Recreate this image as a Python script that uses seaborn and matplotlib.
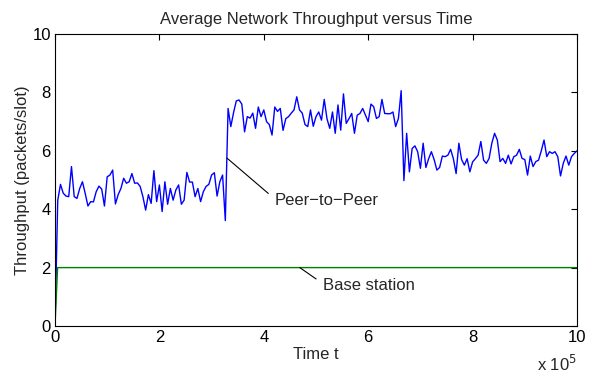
import numpy as np
import pandas as pd
import matplotlib
matplotlib.use("Agg")
import matplotlib.pyplot as plt
import seaborn as sns

# ---- data ----
p2p_phase1 = [0.0, 4.3, 4.85, 4.55, 4.45, 4.43, 5.46, 4.43, 4.37, 4.71,
              4.94, 4.54, 4.11, 4.26, 4.25, 4.6, 4.79, 4.69, 4.11, 5.11,
              5.17, 5.34, 4.18, 4.5, 4.71, 5.06, 4.89, 4.94, 5.22, 4.89,
              4.9, 4.78, 4.43, 3.97, 4.5, 4.2, 5.32, 4.26, 4.83, 3.92,
              4.94, 4.17, 4.71, 4.31, 4.66, 4.83, 4.17, 4.31, 5.26, 4.93,
              4.93, 4.43, 4.71, 4.26, 4.6, 4.78, 4.85, 5.17, 5.25, 4.45,
              4.94, 5.17, 3.61]
p2p_phase2 = [7.45, 6.83, 7.31, 7.71, 7.74, 7.6, 6.65, 7.17, 7.12, 7.29,
              6.77, 7.5, 7.17, 7.4, 7.0, 6.9, 6.54, 7.5, 7.35, 7.45,
              6.7, 7.1, 7.17, 7.29, 7.4, 7.85, 7.4, 7.29, 6.9,
              6.83, 7.4, 6.84, 7.17, 7.33, 7.05, 7.76, 7.1, 6.77, 7.33,
              6.6, 7.57, 6.71, 7.95, 6.94, 7.1, 7.28, 6.6, 7.22, 7.28,
              7.45, 7.22, 7.0, 7.6, 7.51, 7.11, 7.17, 7.76, 7.28, 7.27,
              7.27, 7.33, 6.83, 7.11, 8.06]
p2p_phase3 = [4.98, 6.6, 5.28, 6.08, 6.17, 5.97, 5.4, 6.26, 5.43, 5.73,
              5.97, 5.7, 5.34, 5.43, 5.82, 5.8, 5.85, 6.05, 5.73, 5.22,
              6.26, 5.7, 5.51, 5.73, 5.28, 5.62, 5.73, 5.85, 6.32,
              5.68, 5.57, 5.74, 6.26, 6.6, 6.37, 5.63, 5.74, 5.57, 5.85,
              5.55, 5.8, 5.85, 6.05, 5.74, 5.7, 5.17, 5.82, 5.46, 5.63,
              5.68, 6.0, 6.37, 5.8, 5.97, 5.91, 5.97, 5.8, 5.14, 5.57,
              5.82, 5.51, 5.8, 5.91, 6.0]
peer_to_peer = p2p_phase1 + p2p_phase2 + p2p_phase3
t_max = 1.0e6
time = np.linspace(0, t_max, len(peer_to_peer))

base_time = [0.0, 5000.0, 1.0e6]
base_station = [0.0, 2.0, 2.0]

xticks = [0, 2e5, 4e5, 6e5, 8e5, 1e6]
xticklabels = ["0", "2", "4", "6", "8", "10"]
yticks = [0, 2, 4, 6, 8, 10]

# ---- plotting ----
sns.set_style("white")
plt.rcParams["font.family"] = ["Liberation Sans", "DejaVu Sans"]

fig = plt.figure(figsize=(5.97, 3.73), dpi=100)
ax = fig.add_axes([0.0921, 0.126, 0.8744, 0.7828])

df_p = pd.DataFrame({"t": time, "v": peer_to_peer})
df_b = pd.DataFrame({"t": base_time, "v": base_station})
sns.lineplot(data=df_p, x="t", y="v", color="#0000ff", lw=1.0, ax=ax,
             estimator=None, sort=False)
sns.lineplot(data=df_b, x="t", y="v", color="#008000", lw=1.0, ax=ax,
             estimator=None, sort=False)

ax.set_xlim(0, t_max)
ax.set_ylim(0, 10)
ax.set_xticks(xticks)
ax.set_xticklabels(xticklabels)
ax.set_yticks(yticks)
ax.tick_params(direction="in", top=True, right=True, length=4, width=0.8,
               labelsize=12, colors="black", pad=3)
for sp in ax.spines.values():
    sp.set_color("black")
    sp.set_linewidth(0.8)

ax.set_xlabel("Time t", fontsize=12, labelpad=1)
ax.set_ylabel("Throughput (packets/slot)", fontsize=12, labelpad=2)
ax.set_title("Average Network Throughput versus Time", fontsize=12, pad=7)
ax.text(1.0, -0.095, "x 10$^5$", transform=ax.transAxes, ha="right",
        va="top", fontsize=12)

ax.annotate("Peer\u2212to\u2212Peer", xy=(3.295e5, 5.75), xytext=(4.21e5, 4.3),
            fontsize=12, va="center", ha="left",
            arrowprops=dict(arrowstyle="-", color="black", lw=0.8,
                            relpos=(0, 0.6), shrinkA=3, shrinkB=0))
ax.annotate("Base station", xy=(4.69e5, 2.0), xytext=(5.13e5, 1.4),
            fontsize=12, va="center", ha="left",
            arrowprops=dict(arrowstyle="-", color="black", lw=0.8,
                            relpos=(0, 0.6), shrinkA=3, shrinkB=0))

fig.savefig("out.png", dpi=100)
